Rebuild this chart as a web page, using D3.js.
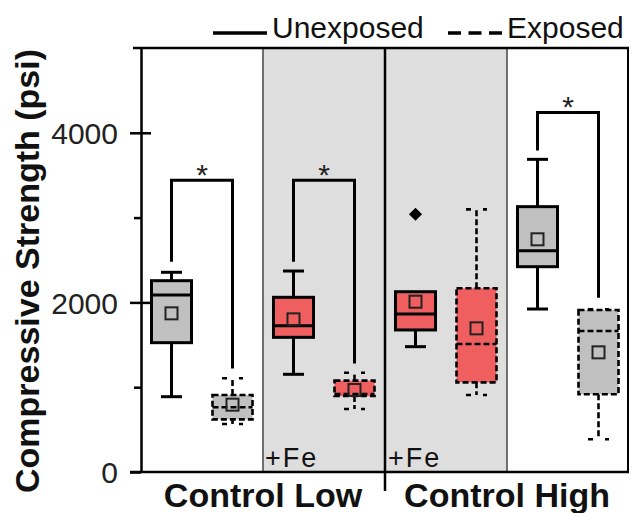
<!DOCTYPE html>
<html><head><meta charset="utf-8">
<script src="https://cdn.jsdelivr.net/npm/d3@7"></script>
<style>body{margin:0;background:#fff}svg{display:block}text{font-family:"Liberation Sans",Arial,sans-serif}</style>
</head><body><svg id="c" width="630" height="513"></svg>
<script>
// ---- data ----
const categories = ["CL-U","CL-E","CLFe-U","CLFe-E","CHFe-U","CHFe-E","CH-U","CH-E"];
const exposed    = [false,true,false,true,false,true,false,true];
const material   = ["plain","plain","fe","fe","fe","fe","plain","plain"];
const whiskerLow = [888, 566, 1152, 743, 1478, 908, 1922, 386];
const q1         = [1525, 621, 1588, 896, 1675, 1057, 2421, 916];
const median     = [2087, 763, 1725, 920, 1863, 1509, 2610, 1663];
const q3         = [2256, 908, 2060, 1077, 2126, 2166, 3129, 1910];
const whiskerHigh= [2355, 1105, 2370, 1171, 2126, 3097, 3687, 1918];
const mean       = [1871, 794, 1800, 967, 2008, 1694, 2744, 1411];
const outliers   = [[],[],[],[],[3039],[],[],[]];
const yMajorTicks = [0, 2000, 4000];
const yMinorTicks = [1000, 3000];
const groupLabels = ["Control Low", "Control High"];
const feLabel = "+Fe";
const bracketFrom = [0, 2, 6];
const bracketTo   = [1, 3, 7];
const bracketTop  = [3440, 3440, 4240];
const bracketLeftEnd  = [2480, 2480, 3790];
const bracketRightEnd = [1220, 1280, 2056];
const legendLabels = ["Unexposed", "Exposed"];

// ---- layout ----
const svg = d3.select("#c");
const L = 141, R = 629, T = 48, B = 472;
const x = d3.scaleBand().domain(categories).range([L, R]).paddingInner(0.344).paddingOuter(0.172);
const y = d3.scaleLinear().domain([0, 5000]).range([B, T]);
const fillColor = {plain: "#c0c0c0", fe: "#ef5f5f"};
const step = x.step();
const gap = (step - x.bandwidth())/2;

// shaded region (Fe samples)
const feCats = categories.filter((c,i)=>material[i]==="fe");
const feLeft = x(feCats[0]) - gap;
const feRight = x(feCats[feCats.length-1]) + x.bandwidth() + gap;
svg.append("rect").attr("x", feLeft).attr("y", T).attr("width", feRight - feLeft).attr("height", B - T).attr("fill", "#dedede");

// thin dividers
[feLeft, feRight].forEach(xx => svg.append("line").attr("x1", xx).attr("x2", xx).attr("y1", T).attr("y2", B)
  .attr("stroke", "#444").attr("stroke-width", 1.5));
// thick center divider
const mid = x(categories[4]) - gap;
svg.append("line").attr("x1", mid).attr("x2", mid).attr("y1", T).attr("y2", 491).attr("stroke", "#000").attr("stroke-width", 2.5);

// frame
svg.append("line").attr("x1", 133).attr("x2", R).attr("y1", T).attr("y2", T).attr("stroke", "#000").attr("stroke-width", 2.5);
svg.append("line").attr("x1", 130).attr("x2", R).attr("y1", B).attr("y2", B).attr("stroke", "#000").attr("stroke-width", 2.5);
svg.append("line").attr("x1", R-1).attr("x2", R-1).attr("y1", T).attr("y2", B).attr("stroke", "#000").attr("stroke-width", 2);

// y axis
const ax = svg.append("g").attr("transform", `translate(${L},0)`)
  .call(d3.axisLeft(y).tickValues(yMajorTicks).tickFormat(d3.format("d")).tickSize(11).tickPadding(12).tickSizeOuter(0));
ax.select(".domain").attr("stroke-width", 2.5);
ax.selectAll(".tick line").attr("stroke-width", 2.5);
ax.selectAll(".tick text").style("font-size", "30px").attr("fill", "#222").attr("dy", "0.36em");
const axIn = svg.append("g").attr("transform", `translate(${L},0)`)
  .call(d3.axisRight(y).tickValues(yMajorTicks.filter(v=>v>0)).tickSize(10).tickFormat("").tickSizeOuter(0));
axIn.select(".domain").remove();
axIn.selectAll(".tick line").attr("stroke-width", 2.5);
const axMinor = svg.append("g").attr("transform", `translate(${L},0)`)
  .call(d3.axisLeft(y).tickValues(yMinorTicks).tickSize(7).tickFormat("").tickSizeOuter(0));
axMinor.select(".domain").remove();
axMinor.selectAll(".tick line").attr("stroke-width", 2.5);

// y title
svg.append("text").attr("transform", `translate(39,271) rotate(-90)`).attr("text-anchor", "middle")
  .style("font-size", "34px").style("font-weight", "bold").attr("fill", "#111").text("Compressive Strength (psi)");

// group labels
svg.append("text").attr("x", (L + mid)/2).attr("y", 507).attr("text-anchor", "middle")
  .style("font-size", "34px").style("font-weight", "bold").attr("fill", "#111").text(groupLabels[0]);
svg.append("text").attr("x", (mid + R)/2).attr("y", 507).attr("text-anchor", "middle")
  .style("font-size", "34px").style("font-weight", "bold").attr("fill", "#111").text(groupLabels[1]);

// +Fe labels
[feLeft + 2, mid + 3].forEach(xx => svg.append("text").attr("x", xx).attr("y", 467)
  .style("font-size", "27px").style("letter-spacing", "2px").attr("fill", "#111").text(feLabel));

// boxes
const bw = x.bandwidth();
const capW = 21;
categories.forEach((c, i) => {
  const g = svg.append("g");
  const cx = x(c) + bw/2;
  const dash = exposed[i] ? "6,3" : null;
  const sw = exposed[i] ? 2.6 : 3;
  const wl = (y1, y2) => g.append("line").attr("x1", cx).attr("x2", cx).attr("y1", y1).attr("y2", y2)
     .attr("stroke", "#000").attr("stroke-width", sw).attr("stroke-dasharray", dash);
  if (whiskerHigh[i] > q3[i]) {
    wl(y(q3[i]), y(whiskerHigh[i]));
    g.append("line").attr("x1", cx - capW/2).attr("x2", cx + capW/2).attr("y1", y(whiskerHigh[i])).attr("y2", y(whiskerHigh[i]))
      .attr("stroke", "#000").attr("stroke-width", sw).attr("stroke-dasharray", exposed[i] ? "5,12" : null);
  }
  wl(y(q1[i]), y(whiskerLow[i]));
  g.append("line").attr("x1", cx - capW/2).attr("x2", cx + capW/2).attr("y1", y(whiskerLow[i])).attr("y2", y(whiskerLow[i]))
    .attr("stroke", "#000").attr("stroke-width", sw).attr("stroke-dasharray", exposed[i] ? "5,12" : null);
  g.append("rect").attr("x", x(c)).attr("width", bw).attr("y", y(q3[i])).attr("height", y(q1[i]) - y(q3[i]))
    .attr("fill", fillColor[material[i]]).attr("stroke", "#000").attr("stroke-width", sw).attr("stroke-dasharray", dash);
  g.append("line").attr("x1", x(c)).attr("x2", x(c) + bw).attr("y1", y(median[i])).attr("y2", y(median[i]))
    .attr("stroke", "#000").attr("stroke-width", sw).attr("stroke-dasharray", dash);
  g.append("rect").attr("x", cx - 6).attr("y", y(mean[i]) - 6).attr("width", 12).attr("height", 12)
    .attr("fill", "none").attr("stroke", "#222").attr("stroke-width", 2);
  outliers[i].forEach(v => g.append("path").attr("d", d3.symbol(d3.symbolDiamond2, 110)())
    .attr("transform", `translate(${cx},${y(v)})`).attr("fill", "#000"));
});

// significance brackets
bracketFrom.forEach((a, k) => {
  const xa = x(categories[a]) + bw/2, xb = x(categories[bracketTo[k]]) + bw/2;
  svg.append("path").attr("d", `M${xa},${y(bracketLeftEnd[k])}V${y(bracketTop[k])}H${xb}V${y(bracketRightEnd[k])}`)
    .attr("fill", "none").attr("stroke", "#000").attr("stroke-width", 3);
  svg.append("text").attr("x", (xa + xb)/2).attr("y", y(bracketTop[k]) + 5).attr("text-anchor", "middle")
    .style("font-size", "30px").attr("fill", "#222").text("*");
});

// legend
svg.append("line").attr("x1", 213).attr("x2", 267).attr("y1", 33).attr("y2", 33).attr("stroke", "#000").attr("stroke-width", 3.5);
svg.append("text").attr("x", 272).attr("y", 38).style("font-size", "30px").attr("fill", "#111").text(legendLabels[0]);
svg.append("line").attr("x1", 448).attr("x2", 502).attr("y1", 33).attr("y2", 33).attr("stroke", "#000").attr("stroke-width", 3.5).attr("stroke-dasharray", "13,7.5");
svg.append("text").attr("x", 507).attr("y", 38).style("font-size", "30px").attr("fill", "#111").text(legendLabels[1]);
</script></body></html>
